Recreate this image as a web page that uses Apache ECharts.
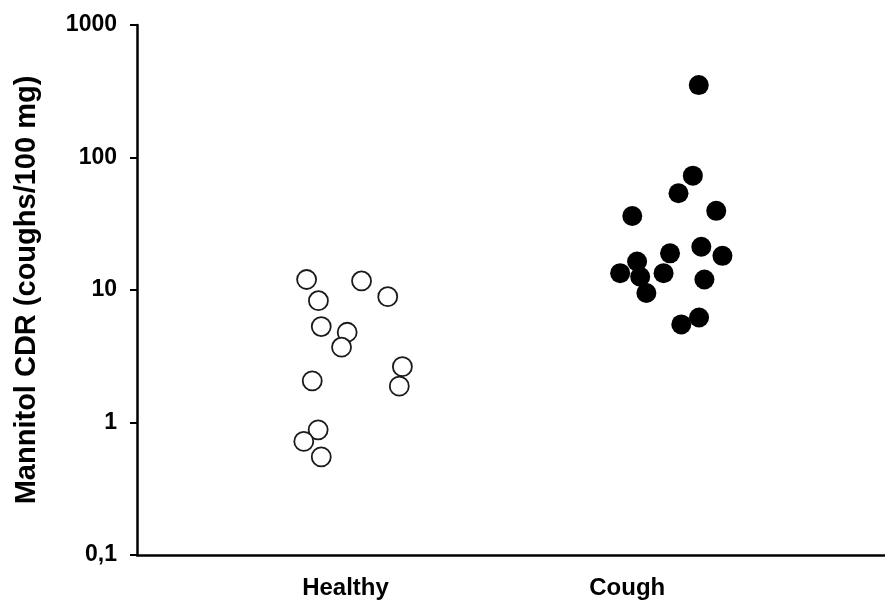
<!DOCTYPE html>
<html>
<head>
<meta charset="utf-8">
<script src="https://cdn.jsdelivr.net/npm/echarts@6/dist/echarts.min.js"></script>
<style>
html,body{margin:0;padding:0;background:#fff;}
#chart{width:885px;height:612px;}
</style>
</head>
<body>
<div id="chart"></div>
<script>
// Categories and their x positions
var categories = ['Healthy', 'Cough'];
var categoryPositions = [1, 2];

// Y-axis tick labels (log scale)
var yTickValues = [0.1, 1, 10, 100, 1000];
var yTickLabels = ['0,1', '1', '10', '100', '1000'];

// Healthy group: jittered x position, Mannitol CDR value
var healthyX = [0.862, 1.057, 1.150, 0.904, 0.914, 1.006, 0.986, 1.202, 1.191, 0.882, 0.903, 0.852, 0.914];
var healthyY = [12.0, 11.7, 8.9, 8.3, 5.3, 4.8, 3.7, 2.64, 1.88, 2.06, 0.88, 0.72, 0.55];

// Cough group: jittered x position, Mannitol CDR value
var coughX = [2.254, 2.233, 2.182, 2.316, 2.018, 2.263, 2.338, 2.152, 2.035, 1.975, 2.046, 2.129, 2.274, 2.068, 2.255, 2.192];
var coughY = [352, 72.9, 53.7, 39.6, 36.2, 21.2, 18.1, 18.9, 16.4, 13.4, 12.6, 13.4, 12.0, 9.5, 6.2, 5.5];

function zip(xs, ys) { return xs.map(function (x, i) { return [x, ys[i]]; }); }

var FONT = '"Liberation Sans", Arial, sans-serif';
var chart = echarts.init(document.getElementById('chart'), null, {renderer: 'canvas'});
chart.setOption({
  backgroundColor: '#ffffff',
  animation: false,
  grid: {left: 137, right: 0, top: 25, bottom: 57, containLabel: false},
  xAxis: {
    type: 'value',
    min: 0.26,
    max: 2.915,
    splitLine: {show: false},
    axisTick: {show: false},
    axisLine: {show: true, onZero: false, lineStyle: {color: '#000', width: 2.5}},
    axisLabel: {
      customValues: categoryPositions,
      margin: 21,
      fontFamily: FONT,
      fontWeight: 'bold',
      fontSize: 24,
      color: '#000',
      formatter: function (v) {
        var i = categoryPositions.indexOf(v);
        return i >= 0 ? categories[i] : '';
      }
    }
  },
  yAxis: {
    type: 'log',
    logBase: 10,
    min: 0.1,
    max: 1000,
    name: 'Mannitol CDR (coughs/100 mg)',
    nameLocation: 'middle',
    nameGap: 96,
    nameTextStyle: {fontFamily: FONT, fontWeight: 'bold', fontSize: 29, color: '#000'},
    splitLine: {show: false},
    minorTick: {show: false},
    axisLine: {show: true, onZero: false, lineStyle: {color: '#000', width: 2.5}},
    axisTick: {show: true, inside: false, length: 7, lineStyle: {color: '#000', width: 2}},
    axisLabel: {
      margin: 20,
      fontFamily: FONT,
      fontWeight: 'bold',
      fontSize: 23,
      color: '#000',
      formatter: function (v) {
        for (var i = 0; i < yTickValues.length; i++) {
          if (Math.abs(Math.log10(v) - Math.log10(yTickValues[i])) < 1e-6) return yTickLabels[i];
        }
        return '';
      }
    }
  },
  series: [
    {
      name: categories[0],
      type: 'scatter',
      symbol: 'circle',
      symbolSize: 19,
      itemStyle: {color: '#ffffff', borderColor: '#1a1a1a', borderWidth: 1.8, opacity: 1},
      data: zip(healthyX, healthyY)
    },
    {
      name: categories[1],
      type: 'scatter',
      symbol: 'circle',
      symbolSize: 20,
      itemStyle: {color: '#000000', borderWidth: 0, opacity: 1},
      data: zip(coughX, coughY)
    }
  ]
});
</script>
</body>
</html>
